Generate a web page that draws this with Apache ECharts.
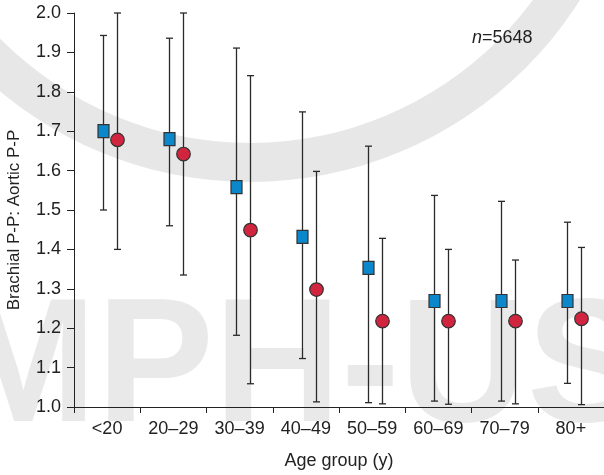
<!DOCTYPE html>
<html>
<head>
<meta charset="utf-8">
<script src="https://cdn.jsdelivr.net/npm/echarts@6/dist/echarts.min.js"></script>
<style>
  html, body { margin: 0; padding: 0; background: #fff; }
  #chart { width: 604px; height: 475px; }
</style>
</head>
<body>
<div id="chart"></div>
<script>
// Age groups on the x axis
const ageGroups = ['<20', '20–29', '30–39', '40–49', '50–59', '60–69', '70–79', '80+'];

// Squares: mean ratio with lower / upper whisker ends
const squareMean = [1.70, 1.68, 1.558, 1.432, 1.353, 1.269, 1.269, 1.269];
const squareLow  = [1.50, 1.46, 1.182, 1.123, 1.011, 1.015, 1.015, 1.060];
const squareHigh = [1.943, 1.936, 1.911, 1.749, 1.662, 1.537, 1.522, 1.469];

// Circles: mean ratio with lower / upper whisker ends
const circleMean = [1.678, 1.642, 1.449, 1.298, 1.218, 1.218, 1.218, 1.224];
const circleLow  = [1.400, 1.335, 1.059, 1.013, 1.008, 1.007, 1.008, 1.006];
const circleHigh = [2.000, 2.000, 1.841, 1.598, 1.428, 1.400, 1.373, 1.405];

// Value axis range and step
const yMin = 1.0;
const yMax = 2.0;
const yStep = 0.1;

const FONT = '"Liberation Sans", Arial, Helvetica, sans-serif';
const INK = '#222';

function errorBarSeries(name, mean, low, high, shift, shape, fill) {
  return {
    type: 'custom',
    name: name,
    clip: false,
    z: 3,
    data: ageGroups.map((g, i) => [i, mean[i], low[i], high[i]]),
    encode: { x: 0, y: [1, 2, 3] },
    renderItem: function (params, api) {
      const i = api.value(0);
      const c = api.coord([i, api.value(1)]);
      const lo = api.coord([i, api.value(2)]);
      const hi = api.coord([i, api.value(3)]);
      const x = Math.round(c[0] + shift) + 0.5;
      const cap = 3.5;
      const ls = { stroke: '#2a2a2a', lineWidth: 1.3 };
      const children = [
        { type: 'line', shape: { x1: x, y1: lo[1], x2: x, y2: hi[1] }, style: ls },
        { type: 'line', shape: { x1: x - cap, y1: lo[1], x2: x + cap, y2: lo[1] }, style: ls },
        { type: 'line', shape: { x1: x - cap, y1: hi[1], x2: x + cap, y2: hi[1] }, style: ls }
      ];
      if (shape === 'square') {
        children.push({
          type: 'rect',
          shape: { x: x - 5.5, y: c[1] - 6.5, width: 11, height: 13 },
          style: { fill: fill, stroke: '#333', lineWidth: 1.2 }
        });
      } else {
        children.push({
          type: 'circle',
          shape: { cx: x, cy: c[1], r: 6.8 },
          style: { fill: fill, stroke: '#333', lineWidth: 1.2 }
        });
      }
      return { type: 'group', children: children };
    }
  };
}

const chart = echarts.init(document.getElementById('chart'), null, { renderer: 'canvas' });

chart.setOption({
  animation: false,
  backgroundColor: '#fff',
  textStyle: { fontFamily: FONT },
  grid: { left: 74, right: 0, top: 13, bottom: 65, containLabel: false },
  graphic: [
    // faint background mark
    {
      type: 'ring',
      z: -10,
      silent: true,
      shape: { cx: 250, cy: -208, r: 390, r0: 351 },
      style: { fill: '#e7e7e7' }
    },
    {
      type: 'text',
      z: -10,
      silent: true,
      x: -50,
      y: 372,
      style: {
        text: 'MPH-US',
        fontSize: 176,
        fontWeight: 'bold',
        fontFamily: 'Liberation Sans',
        fill: '#e9e9e9',
        verticalAlign: 'middle'
      }
    },
    // y axis title
    {
      type: 'text',
      x: 14,
      y: 220,
      rotation: Math.PI / 2,
      style: {
        text: 'Brachial P-P: Aortic P-P',
        fontSize: 17,
        fontFamily: 'Liberation Sans',
        fill: INK,
        align: 'center',
        verticalAlign: 'middle'
      }
    },
    // sample size
    {
      type: 'text',
      x: 472,
      y: 38,
      style: {
        text: '{i|n}=5648',
        fontSize: 18,
        fontFamily: 'Liberation Sans',
        fill: INK,
        verticalAlign: 'middle',
        rich: {
          i: { fontStyle: 'italic', fontSize: 18, fontFamily: 'Liberation Sans', fill: INK }
        }
      }
    }
  ],
  xAxis: {
    type: 'category',
    data: ageGroups,
    boundaryGap: true,
    name: 'Age group (y)',
    nameLocation: 'middle',
    nameGap: 45,
    nameTextStyle: { fontSize: 18, color: INK, fontFamily: FONT },
    axisLine: { lineStyle: { color: INK, width: 1 } },
    axisTick: { show: true, length: 6, lineStyle: { color: INK } },
    axisLabel: { fontSize: 18, color: INK, margin: 13, fontFamily: FONT },
    splitLine: { show: false }
  },
  yAxis: {
    type: 'value',
    min: yMin,
    max: yMax,
    interval: yStep,
    axisLine: { show: true, lineStyle: { color: INK, width: 1 } },
    axisTick: { show: true, length: 7, lineStyle: { color: INK } },
    axisLabel: {
      fontSize: 18,
      color: INK,
      margin: 13,
      fontFamily: FONT,
      formatter: v => v.toFixed(1)
    },
    splitLine: { show: false }
  },
  series: [
    errorBarSeries('squares', squareMean, squareLow, squareHigh, -4, 'square', '#0b88cc'),
    errorBarSeries('circles', circleMean, circleLow, circleHigh, 10, 'circle', '#d0243f')
  ]
});
</script>
</body>
</html>
